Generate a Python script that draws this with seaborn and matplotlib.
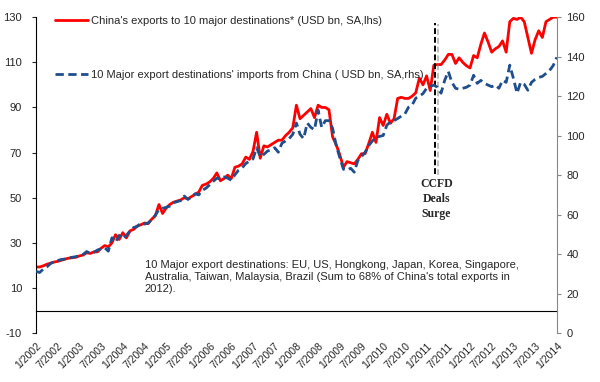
import matplotlib
matplotlib.use("Agg")
import matplotlib.pyplot as plt
import matplotlib.patheffects as pe
import numpy as np
import pandas as pd
import seaborn as sns

# monthly, 1/2002 .. 1/2014
china_exports = [
    19.3, 19.3, 19.8, 20.5, 21.0, 21.5, 21.8, 22.3, 22.8, 23.2, 23.4, 23.6,
    24.2, 24.6, 25.6, 25.3, 26.0, 26.0, 27.6, 28.8, 28.2, 30.0, 33.6, 31.5,
    34.5, 32.2, 35.3, 36.0, 37.5, 38.0, 38.8, 38.5, 40.5, 42.0, 47.0, 43.0,
    45.5, 47.0, 48.0, 48.5, 49.0, 50.0, 49.5, 50.5, 51.5, 52.5, 55.5, 56.0,
    57.0, 58.5, 61.0, 57.5, 58.5, 60.0, 58.5, 63.5, 64.0, 65.0, 68.0, 67.0,
    70.5, 79.0, 67.5, 73.0, 72.5, 73.5, 74.5, 75.5, 75.5, 77.5, 79.0, 81.0,
    91.0, 85.0, 86.5, 88.0, 89.5, 85.5, 91.0, 90.0, 90.0, 89.0, 77.0, 73.5,
    69.0, 63.5, 66.0, 65.5, 65.0, 67.0, 69.5, 69.5, 74.0, 79.0, 74.5, 85.5,
    82.0, 87.0, 83.0, 85.0, 94.0, 94.5, 94.0, 94.0, 95.0, 96.5, 103.0, 100.0,
    104.0, 97.5, 108.7, 109.0, 109.0, 111.0, 113.5, 113.5, 109.5, 112.0, 110.0, 108.5,
    107.5, 113.0, 112.0, 118.0, 123.0, 119.0, 114.5, 116.0, 117.0, 119.5, 114.5, 128.0,
    129.5, 129.0, 130.0, 128.0, 121.0, 114.0, 120.0, 124.0, 121.0, 128.0, 129.0, 130.0,
    130.0,
]
dest_imports = [
    31.3, 30.7, 32.4, 33.5, 35.2, 36.2, 36.7, 37.3, 37.5, 38.1, 38.4, 38.7,
    39.2, 39.8, 41.3, 40.4, 40.9, 42.1, 42.7, 43.2, 41.5, 48.3, 46.1, 49.5,
    47.8, 49.5, 51.8, 53.5, 54.0, 55.8, 55.2, 55.8, 57.5, 59.7, 62.6, 63.2,
    63.7, 64.3, 66.0, 66.6, 67.1, 69.4, 67.7, 68.9, 70.6, 70.0, 72.3, 73.4,
    75.1, 76.8, 78.5, 78.0, 79.1, 78.5, 77.4, 80.2, 82.5, 83.7, 85.9, 87.1,
    88.2, 93.9, 89.4, 90.5, 92.2, 92.8, 93.9, 91.6, 96.2, 97.3, 98.5, 100.7,
    106.4, 100.7, 98.5, 106.4, 104.2, 103.0, 112.9, 104.2, 107.6, 107.6, 103.8, 95.0,
    88.9, 83.0, 82.5, 83.5, 81.5, 87.5, 89.4, 91.6, 95.0, 97.3, 99.3, 99.6,
    100.1, 105.3, 107.0, 107.6, 108.7, 109.9, 111.0, 114.4, 115.5, 119.0, 120.0, 121.3,
    124.0, 125.0, 125.6, 124.5, 121.5, 128.0, 132.5, 127.0, 124.0, 123.5, 124.0, 124.5,
    125.6, 130.6, 126.5, 128.0, 126.5, 125.6, 124.8, 125.6, 124.0, 128.0, 127.0, 135.7,
    129.0, 121.5, 127.0, 126.0, 123.0, 127.0, 128.5, 129.5, 130.0, 131.5, 133.0, 135.5,
    139.7,
]
tick_labels = [
    "1/2002", "7/2002", "1/2003", "7/2003", "1/2004", "7/2004", "1/2005",
    "7/2005", "1/2006", "7/2006", "1/2007", "7/2007", "1/2008", "7/2008",
    "1/2009", "7/2009", "1/2010", "7/2010", "1/2011", "7/2011", "1/2012",
    "7/2012", "1/2013", "7/2013", "1/2014",
]
ccfd_month = 110.4  # around 3/2011

label_red = "China's exports to 10 major destinations* (USD bn, SA,lhs)"
label_blue = "10 Major export destinations' imports from China ( USD bn, SA,rhs)"
note = ("10 Major export destinations: EU, US, Hongkong, Japan, Korea, Singapore,\n"
        "Australia, Taiwan, Malaysia, Brazil (Sum to 68% of China's total exports in\n"
        "2012).")

df = pd.DataFrame({
    "month": np.arange(len(china_exports)),
    "exports": china_exports,
    "imports": dest_imports,
})

sns.set_style("white")
plt.rcParams["font.family"] = ["Liberation Sans", "DejaVu Sans"]
plt.rcParams["axes.unicode_minus"] = False

fig = plt.figure(figsize=(6, 3.82), dpi=100)
ax = fig.add_axes([0.06, 0.128, 0.868, 0.827])
ax2 = ax.twinx()

sns.lineplot(data=df, x="month", y="exports", ax=ax, color="#ff0000", lw=2.0,
             label=label_red, legend=False)
sns.lineplot(data=df, x="month", y="imports", ax=ax2, color="#1f4e8c", lw=2.0,
             linestyle=(0, (3, 1.6)), label=label_blue, legend=False)

ax.set_xlim(0, 144)
ax.set_ylim(-10, 130)
ax.set_yticks(range(-10, 131, 20))
ax2.set_ylim(0, 160)
ax2.set_yticks(range(0, 161, 20))

ax.spines["bottom"].set_position(("data", 0))
ax.tick_params(axis="x", direction="out", length=4, width=0.8, pad=18,
               labelsize=7.5, labelrotation=45)
ax.tick_params(axis="y", direction="out", length=3, width=0.8, pad=7, labelsize=8)
ax2.tick_params(axis="y", direction="out", length=3, width=0.8, pad=4,
                labelsize=8, color="#888888")
ax.set_xticks(range(0, 145, 6))
ax.set_xticklabels(tick_labels)
for lbl in ax.get_xticklabels():
    lbl.set_ha("right")
    lbl.set_rotation_mode("anchor")
ax.set_xlabel("")
ax.set_ylabel("")
ax2.set_ylabel("")

for a in (ax, ax2):
    a.spines["top"].set_visible(False)
    a.grid(False)
ax.spines["right"].set_visible(False)
ax2.spines["left"].set_visible(False)
ax2.spines["bottom"].set_visible(False)
ax.spines["left"].set_color("black")
ax.spines["bottom"].set_color("black")
ax2.spines["right"].set_color("#888888")

# CCFD marker
ax.vlines(ccfd_month, 60.6, 127.5, colors="black", linestyles=(0, (3, 1.5)), lw=1.4,
          path_effects=[pe.SimpleLineShadow(offset=(2, -1), shadow_color="gray", alpha=0.5),
                        pe.Normal()])
ax.text(ccfd_month + 0.3, 58.9, "CCFD\nDeals\nSurge", ha="center", va="top",
        fontsize=8.5, fontweight="bold", family="Liberation Serif", linespacing=1.35)

ax.text(30.1, 22.4, note, ha="left", va="top", fontsize=8, linespacing=1.27)

h1, l1 = ax.get_legend_handles_labels()
h2, l2 = ax2.get_legend_handles_labels()
ax2.legend(h1 + h2, l1 + l2, loc="upper left", bbox_to_anchor=(0.036, 1.003),
           frameon=False, fontsize=8, labelspacing=3.95, handlelength=3.0,
           handletextpad=0.3, borderpad=0, borderaxespad=0)

fig.savefig("out.png", dpi=100)
